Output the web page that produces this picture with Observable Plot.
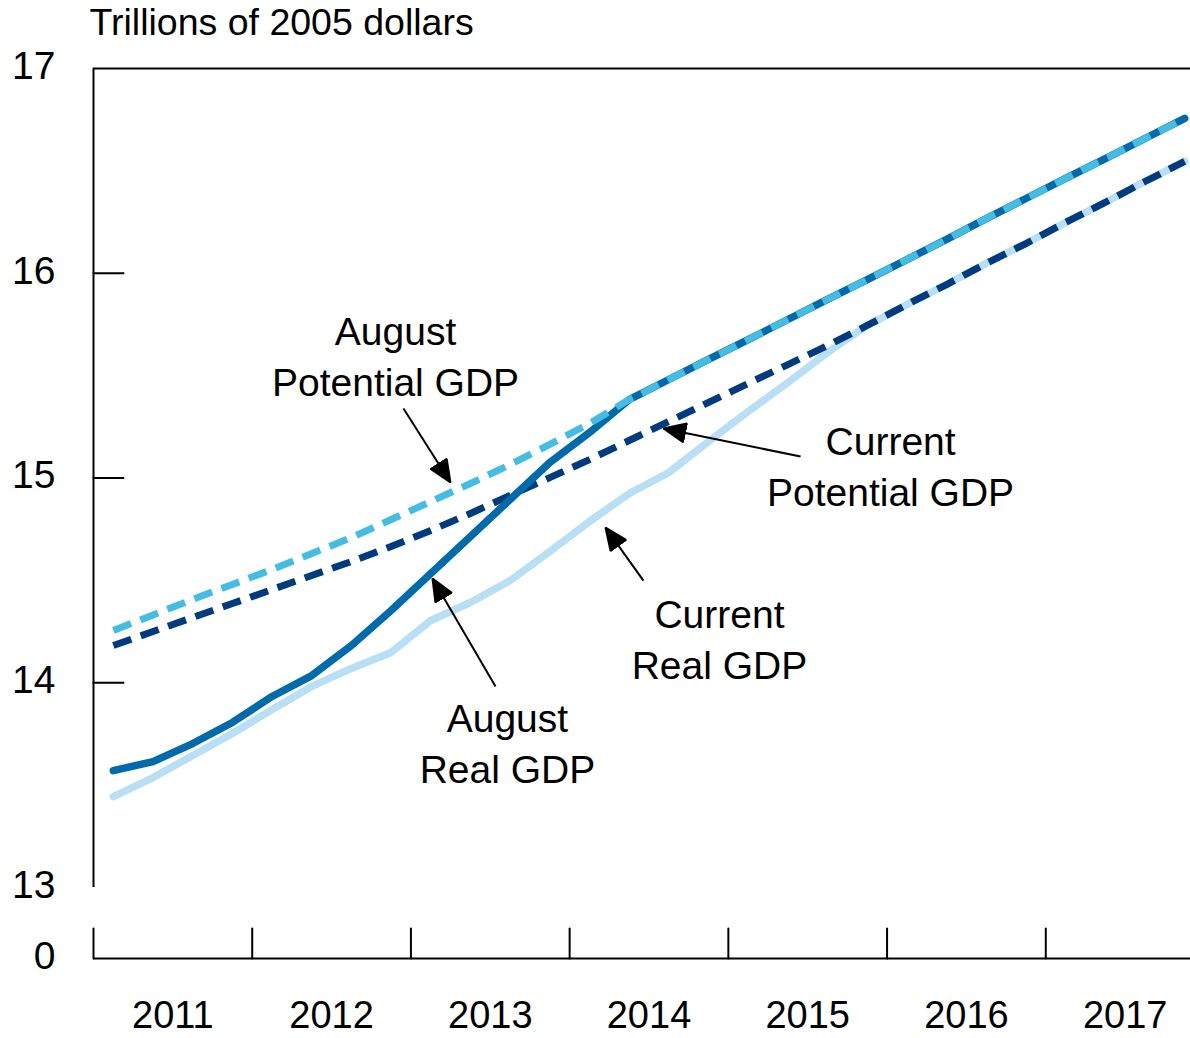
<!DOCTYPE html>
<html>
<head>
<meta charset="utf-8">
<script src="https://cdn.jsdelivr.net/npm/d3@7"></script>
<script src="https://cdn.jsdelivr.net/npm/@observablehq/plot@0.6"></script>
<style>
  html, body { margin: 0; padding: 0; background: #fff; overflow: hidden; width: 1190px; height: 1038px; }
  #chart svg { display: block; }
</style>
</head>
<body>
<div id="chart"></div>
<script>
// ---- data (trillions of 2005 dollars, quarterly 2011Q1 .. 2017Q4) ----
const years = [2011, 2012, 2013, 2014, 2015, 2016, 2017];
const quarterNames = ["Q1", "Q2", "Q3", "Q4"];

const augustPotential = [
  14.255, 14.331, 14.407, 14.480, 14.553, 14.631, 14.709, 14.797,
  14.885, 14.973, 15.066, 15.164, 15.266, 15.383, 15.481, 15.579,
  15.676, 15.774, 15.872, 15.969, 16.067, 16.165, 16.267, 16.365,
  16.463, 16.560, 16.658, 16.756
];
const currentPotential = [
  14.182, 14.250, 14.319, 14.387, 14.455, 14.524, 14.592, 14.665,
  14.744, 14.827, 14.915, 15.002, 15.090, 15.183, 15.276, 15.369,
  15.462, 15.554, 15.647, 15.745, 15.847, 15.945, 16.048, 16.145,
  16.248, 16.346, 16.448, 16.546
];
const augustReal = [
  13.571, 13.615, 13.703, 13.806, 13.933, 14.035, 14.182, 14.353,
  14.534, 14.714, 14.895, 15.076, 15.222, 15.383, 15.481, 15.579,
  15.676, 15.774, 15.872, 15.969, 16.067, 16.165, 16.267, 16.365,
  16.463, 16.560, 16.658, 16.756
];
const currentReal = [
  13.444, 13.537, 13.645, 13.752, 13.869, 13.982, 14.070, 14.148,
  14.304, 14.392, 14.499, 14.641, 14.788, 14.924, 15.027, 15.178,
  15.325, 15.466, 15.613, 15.745, 15.847, 15.945, 16.048, 16.145,
  16.248, 16.346, 16.448, 16.546
];

const yLabel = "Trillions of 2005 dollars";
const yTicks = [13, 14, 15, 16, 17];
const yInnerTicks = [14, 15, 16];
const zeroLabel = "0";
const breakFloor = 12.6532;   // value position of the broken axis' "0" baseline

const annotations = [
  {label: "August\nPotential GDP", x: 2012.903, y: 15.603, tailX: 2012.953, tailY: 15.339, tipX: 2013.249, tipY: 14.978},
  {label: "Current\nPotential GDP", x: 2016.022, y: 15.066, tailX: 2015.455, tailY: 15.105, tipX: 2014.591, tipY: 15.242},
  {label: "Current\nReal GDP", x: 2014.944, y: 14.221, tailX: 2014.465, tailY: 14.499, tipX: 2014.226, tipY: 14.758},
  {label: "August\nReal GDP", x: 2013.608, y: 13.713, tailX: 2013.533, tailY: 13.982, tipX: 2013.136, tipY: 14.509}
];

const colors = {
  currentReal: "#B9DFF5",
  currentPotential: "#003B7E",
  augustReal: "#006AAB",
  augustPotential: "#45BDE2"
};

// ---- build table ----
const quarters = years.flatMap(y => quarterNames.map((q, i) => ({label: `${y}${q}`, t: y + (i + 0.5) / 4})));
const toRows = (vals, series) => vals.map((v, i) => ({quarter: quarters[i].label, t: quarters[i].t, value: v, series}));
const rowsCR = toRows(currentReal, "Current Real GDP");
const rowsCP = toRows(currentPotential, "Current Potential GDP");
const rowsAR = toRows(augustReal, "August Real GDP");
const rowsAP = toRows(augustPotential, "August Potential GDP");

const font = '"Liberation Sans", Arial, Helvetica, sans-serif';
const tickShape = {draw(context, l) { context.moveTo(0, 0); context.lineTo(0, -l); }};

function filledArrow(color, context) {
  const doc = (context && context.document) || document;
  const ns = "http://www.w3.org/2000/svg";
  const m = doc.createElementNS(ns, "marker");
  m.setAttribute("viewBox", "-23 -11 24 22");
  m.setAttribute("markerUnits", "userSpaceOnUse");
  m.setAttribute("markerWidth", "24");
  m.setAttribute("markerHeight", "22");
  m.setAttribute("refX", "0");
  m.setAttribute("refY", "0");
  m.setAttribute("orient", "auto");
  const p = doc.createElementNS(ns, "path");
  p.setAttribute("d", "M0,0L-22,-9.5L-22,9.5Z");
  p.setAttribute("fill", color);
  m.appendChild(p);
  return m;
}

function build(marker) {
  return Plot.plot({
    width: 1190,
    height: 1038,
    marginTop: 68,
    marginBottom: 80,
    marginLeft: 93,
    marginRight: 0,
    x: {domain: [2011, 2018], range: [93, 1204]},
    y: {domain: [breakFloor, 17]},
    style: {fontFamily: font, fontSize: "39px", color: "black", background: "white"},
    marks: [
      // axis title
      Plot.text([yLabel], {frameAnchor: "top-left", dx: -4, dy: -46, fontSize: 37.5, textAnchor: "start", lineAnchor: "middle", fill: "black"}),
      // frame pieces of the broken axis
      Plot.ruleY([17], {stroke: "black", strokeWidth: 2}),
      Plot.ruleX([2011], {y1: 13, y2: 17, stroke: "black", strokeWidth: 2}),
      Plot.ruleY([breakFloor], {stroke: "black", strokeWidth: 2}),
      Plot.vector(years, {x: d => d, y: () => breakFloor, length: 30, rotate: 0, anchor: "start", shape: tickShape, stroke: "black", strokeWidth: 2}),
      Plot.vector(yInnerTicks, {x: () => 2011, y: d => d, length: 30, rotate: 90, anchor: "start", shape: tickShape, stroke: "black", strokeWidth: 2}),
      Plot.axisY([breakFloor, ...yTicks], {tickSize: 0, tickPadding: 38, dy: -2, fontSize: 39, label: null,
        tickFormat: d => d === breakFloor ? zeroLabel : String(d)}),
      Plot.axisX(years.map(y => y + 0.5), {tickSize: 0, tickPadding: 43, fontSize: 38, label: null,
        tickFormat: d => String(Math.floor(d))}),
      // series
      Plot.line(rowsCR, {x: "t", y: "value", stroke: colors.currentReal, strokeWidth: 7.5, strokeLinecap: "round", strokeLinejoin: "round"}),
      Plot.line(rowsCP, {x: "t", y: "value", stroke: colors.currentPotential, strokeWidth: 7, strokeDasharray: "19,10", strokeLinecap: "butt"}),
      Plot.line(rowsAR, {x: "t", y: "value", stroke: colors.augustReal, strokeWidth: 7.5, strokeLinecap: "round", strokeLinejoin: "round"}),
      Plot.line(rowsAP, {x: "t", y: "value", stroke: colors.augustPotential, strokeWidth: 7, strokeDasharray: "19,10", strokeLinecap: "butt"}),
      // annotations
      Plot.link(annotations, {x1: "tailX", y1: "tailY", x2: "tipX", y2: "tipY", stroke: "black", strokeWidth: 2, markerEnd: marker}),
      Plot.text(annotations, {x: "x", y: "y", text: "label", fontSize: 39, lineHeight: 1.31, textAnchor: "middle", lineAnchor: "middle", fill: "black"})
    ]
  });
}

let chart;
try { chart = build(filledArrow); } catch (e) { chart = build("arrow"); }
document.getElementById("chart").appendChild(chart);
</script>
</body>
</html>
